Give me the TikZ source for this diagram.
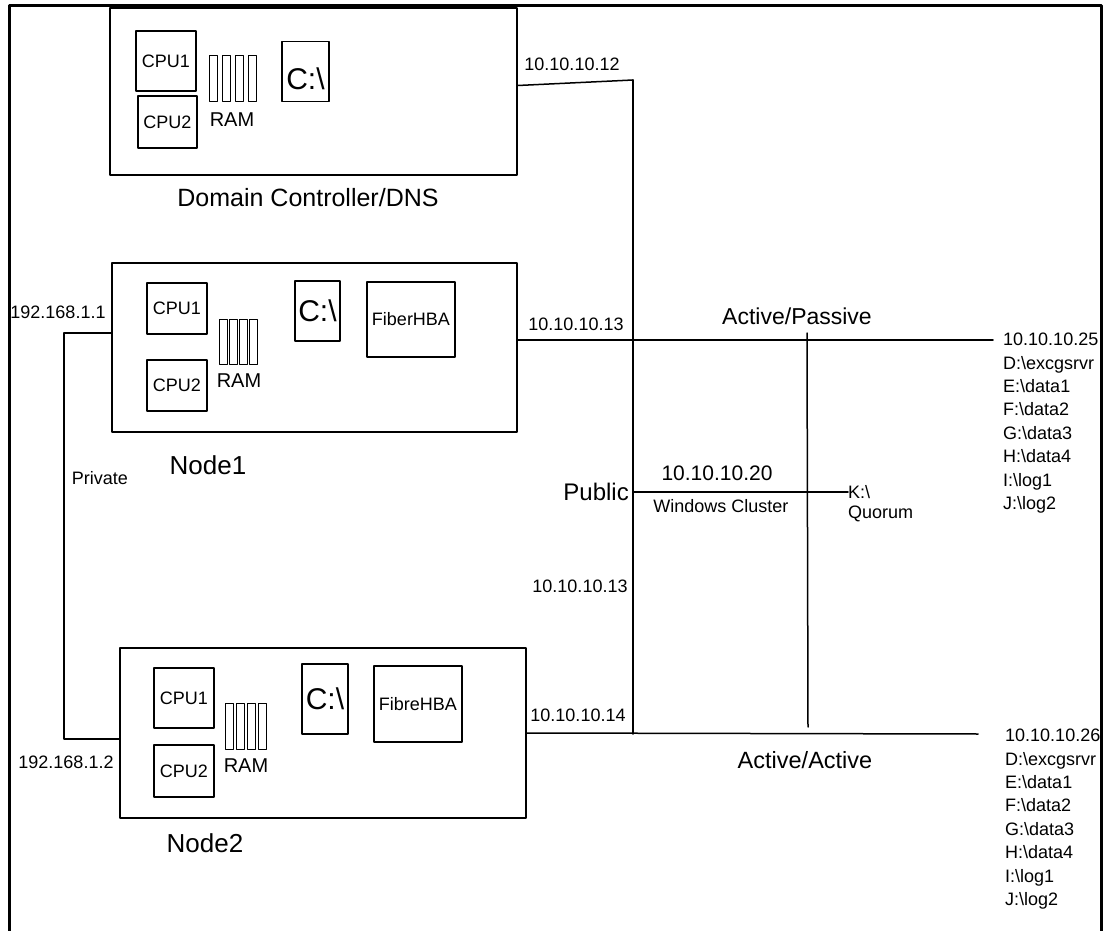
\documentclass[tikz,border=0pt]{standalone}
\usepackage{fontspec}
\setmainfont{Liberation Sans}
\usepackage{tikz}
\usetikzlibrary{positioning}
\newcommand{\txtsize}[1]{\fontsize{#1}{#1}\selectfont}

\begin{document}
\begin{tikzpicture}[line cap=round,line join=round,x=1pt,y=-1pt,
    frame/.style={line width=3pt},
    server/.style={draw,line width=1.6pt,inner sep=0pt},
    part/.style={draw,line width=1.3pt,inner sep=0pt,font=\txtsize{18}},
    drive/.style={part,font=\txtsize{30}},
    slot/.style={line width=1pt},
    wire/.style={line width=1.5pt},
    lbl/.style={inner sep=0pt,font=\txtsize{18}},
    caption/.style={inner sep=0pt,font=\txtsize{26}},
    disks/.style={inner sep=0pt,anchor=north west,align=left,font=\fontsize{18}{23.4}\selectfont}]
    \useasboundingbox (0,0) rectangle (1104,931);
    \draw [frame] (9,931) -- (9,6) -- (1101,6) -- (1101,931);
    % domain controller
    \node [server,minimum width=407,minimum height=167] (dc) at (313.5,91.5) {};
    \node [part,minimum width=60,minimum height=60] (dccpuA) at (166,61) {CPU1};
    \node [part,minimum width=59,minimum height=52] (dccpuB) at (167.5,122) {CPU2};
    \draw [slot] (209,56) rectangle (217,102);
    \draw [slot] (222,56) rectangle (230,102);
    \draw [slot] (235,56) rectangle (243,102);
    \draw [slot] (248,56) rectangle (256,102);
    \node [lbl,font=\txtsize{20}] (dcram) at (232,120) {RAM};
    \node [drive,minimum width=47,minimum height=60,
      label={[inner sep=0pt,font=\txtsize{30},yshift=-7pt]center:C:\textbackslash}] (dcdrive) at (305.5,71.5) {};
    \node [caption,font=\txtsize{25}] (dccap) at (308,198) {Domain Controller/DNS};
    % node 1
    \node [server,minimum width=405,minimum height=169] (nA) at (314.5,347.5) {};
    \node [part,minimum width=60,minimum height=51] (nAcpuA) at (177,308.5) {CPU1};
    \node [part,minimum width=60,minimum height=51] (nAcpuB) at (177,385.5) {CPU2};
    \draw [slot] (219,319) rectangle (227,364);
    \draw [slot] (229,319) rectangle (237,364);
    \draw [slot] (239,319) rectangle (247,364);
    \draw [slot] (249,319) rectangle (257,364);
    \node [lbl,font=\txtsize{20}] (nAram) at (239,381) {RAM};
    \node [drive,minimum width=45,minimum height=60] (nAdrive) at (317.5,311) {C:\textbackslash};
    \node [part,minimum width=88,minimum height=75] (nAhba) at (411,319.5) {FiberHBA};
    \node [caption] (nAcap) at (208,465) {Node1};
    % node 2
    \node [server,minimum width=406,minimum height=170] (nB) at (323,733) {};
    \node [part,minimum width=60,minimum height=60] (nBcpuA) at (184,698) {CPU1};
    \node [part,minimum width=60,minimum height=52] (nBcpuB) at (184,771) {CPU2};
    \draw [slot] (225,703) rectangle (233,749);
    \draw [slot] (236,703) rectangle (244,749);
    \draw [slot] (247,703) rectangle (255,749);
    \draw [slot] (258,703) rectangle (266,749);
    \node [lbl,font=\txtsize{20}] (nBram) at (246,766) {RAM};
    \node [drive,minimum width=46,minimum height=70] (nBdrive) at (325,699) {C:\textbackslash};
    \node [part,minimum width=88,minimum height=76] (nBhba) at (418,704) {FibreHBA};
    \node [caption] (nBcap) at (205,843) {Node2};
    % public network
    \coordinate (pubTop) at (633,80);
    \coordinate (pubBot) at (633,734);
    \coordinate (pubMid) at (633,492);
    \coordinate (apEnd) at (993,340);
    \coordinate (aaEnd) at (978,734);
    \coordinate (tapTop) at (807,333);
    \coordinate (tapBot) at (808,727);
    \draw [wire] ([yshift=6pt]dc.east) -- (pubTop);
    \draw [wire] (pubTop) -- (pubBot);
    \draw [wire] ([yshift=7.5pt]nA.east) -- (apEnd);
    \draw [wire] (nB.east) -- (aaEnd);
    \draw [wire] (tapTop) -- (tapBot);
    \node [lbl] (ipdc) at (572,64) {10.10.10.12};
    \node [lbl] (ipnA) at (576,324) {10.10.10.13};
    \node [lbl] (ipnAb) at (580,586) {10.10.10.13};
    \node [lbl] (ipnB) at (578,715) {10.10.10.14};
    \node [lbl,font=\txtsize{23}] (actpas) at (797,316) {Active/Passive};
    \node [lbl,font=\txtsize{23.5}] (actact) at (805,760) {Active/Active};
    % cluster and quorum
    \node [lbl,font=\txtsize{24},anchor=east] (public) at (629,492) {Public};
    \node [lbl,anchor=west] (quorumdrv) at (848,492) {K:\textbackslash};
    \node [lbl,anchor=west] (quorum) at (848,514) {Quorum};
    \draw [wire] (pubMid) -- (quorumdrv.west);
    \node [lbl,font=\txtsize{21}] (clusterip) at (717,473) {10.10.10.20};
    \node [lbl] (cluster) at (721,506) {Windows Cluster};
    % disks
    \node [disks] (apdisks) at (1003,333) {10.10.10.25\\D:\textbackslash excgsrvr\\E:\textbackslash data1\\F:\textbackslash data2\\G:\textbackslash data3\\H:\textbackslash data4\\I:\textbackslash log1\\J:\textbackslash log2};
    \node [disks] (aadisks) at (1005,729) {10.10.10.26\\D:\textbackslash excgsrvr\\E:\textbackslash data1\\F:\textbackslash data2\\G:\textbackslash data3\\H:\textbackslash data4\\I:\textbackslash log1\\J:\textbackslash log2};
    % private network
    \coordinate (privTop) at (64,333);
    \coordinate (privBot) at (64,739);
    \draw [wire] (privTop -| nA.west) -- (privTop) -- (privBot) -- (privBot -| nB.west);
    \node [lbl] (ipprivA) at (58,312) {192.168.1.1};
    \node [lbl] (ipprivB) at (66,762) {192.168.1.2};
    \node [lbl] (private) at (100,478) {Private};
\end{tikzpicture}
\end{document}
